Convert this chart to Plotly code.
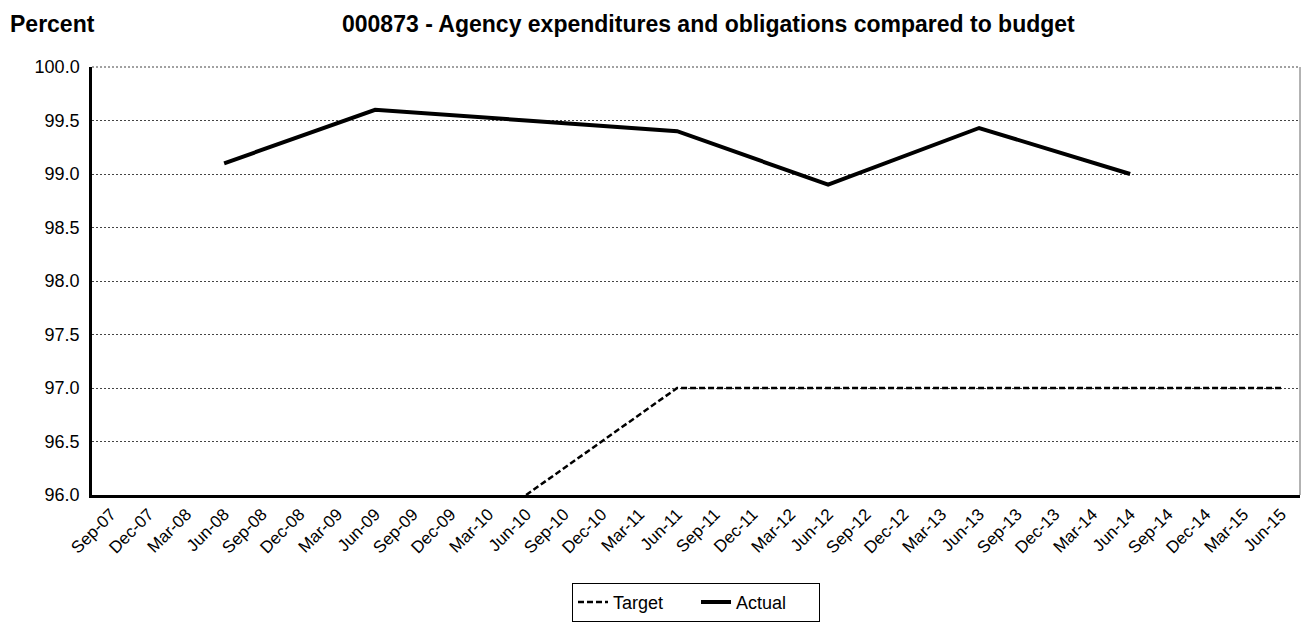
import plotly.graph_objects as go

# Quarterly category axis
quarters = [
    "Sep-07", "Dec-07", "Mar-08", "Jun-08", "Sep-08", "Dec-08", "Mar-09", "Jun-09",
    "Sep-09", "Dec-09", "Mar-10", "Jun-10", "Sep-10", "Dec-10", "Mar-11", "Jun-11",
    "Sep-11", "Dec-11", "Mar-12", "Jun-12", "Sep-12", "Dec-12", "Mar-13", "Jun-13",
    "Sep-13", "Dec-13", "Mar-14", "Jun-14", "Sep-14", "Dec-14", "Mar-15", "Jun-15",
]

# Target series (percent)
target_x = ["Jun-10", "Jun-11", "Jun-12", "Jun-13", "Jun-14", "Jun-15"]
target_y = [96.0, 97.0, 97.0, 97.0, 97.0, 97.0]

# Actual series (percent)
actual_x = ["Jun-08", "Jun-09", "Jun-10", "Jun-11", "Jun-12", "Jun-13", "Jun-14"]
actual_y = [99.1, 99.6, 99.5, 99.4, 98.9, 99.43, 99.0]

FONT = "Liberation Sans, Arial, sans-serif"

fig = go.Figure()
fig.add_trace(go.Scatter(
    x=target_x, y=target_y, name="Target", mode="lines",
    line=dict(color="black", width=2.5, dash="6px,3px"),
))
fig.add_trace(go.Scatter(
    x=actual_x, y=actual_y, name="Actual", mode="lines",
    line=dict(color="black", width=4),
))

fig.update_layout(
    width=1308, height=632,
    margin=dict(l=92, r=8, t=67, b=137),
    paper_bgcolor="white", plot_bgcolor="white",
    font=dict(family=FONT, size=18, color="black"),
    showlegend=True,
    legend=dict(
        orientation="h", x=0.5, xanchor="center", y=-0.205, yanchor="top",
        bordercolor="black", borderwidth=1, bgcolor="white",
        font=dict(family=FONT, size=18, color="black"),
        itemwidth=30, entrywidth=78, entrywidthmode="pixels",
    ),
    xaxis=dict(
        type="category", categoryorder="array", categoryarray=quarters,
        range=[-0.5, len(quarters) - 0.5],
        tickangle=-45, showgrid=False,
        showline=True, linecolor="black", linewidth=2.5,
        ticks="", tickfont=dict(family=FONT, size=17, color="black"),
    ),
    yaxis=dict(
        range=[96, 100], dtick=0.5, tickformat=".1f",
        showgrid=True, gridcolor="#444444", gridwidth=1, griddash="2px,2px",
        showline=True, linecolor="black", linewidth=2.5,
        ticks="", zeroline=False, ticklabelstandoff=6,
        tickfont=dict(family=FONT, size=18, color="black"),
    ),
    shapes=[
        dict(type="line", xref="paper", yref="paper", x0=1, x1=1, y0=0, y1=1,
             line=dict(color="#666666", width=1)),
        dict(type="line", xref="paper", yref="paper", x0=0, x1=1, y0=1, y1=1,
             line=dict(color="#444444", width=1, dash="2px,2px")),
    ],
    annotations=[
        dict(text="<b>Percent</b>", xref="paper", yref="paper", x=-0.0695, y=1.10,
             xanchor="left", yanchor="middle", showarrow=False,
             font=dict(family=FONT, size=23, color="black")),
        dict(text="<b>000873 - Agency expenditures and obligations compared to budget</b>",
             xref="paper", yref="paper", x=0.51, y=1.10,
             xanchor="center", yanchor="middle", showarrow=False,
             font=dict(family=FONT, size=23, color="black")),
    ],
)

fig.write_html("out.html")
